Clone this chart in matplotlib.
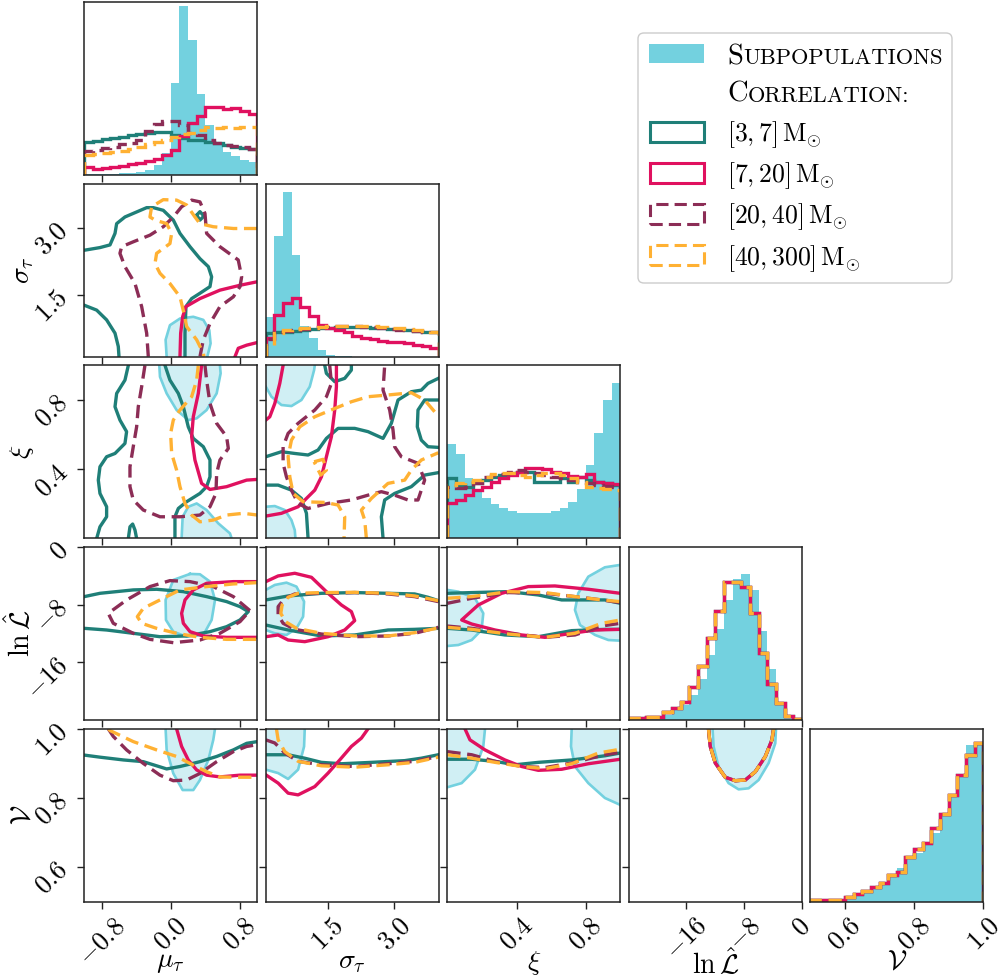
import matplotlib
matplotlib.use("Agg")
import matplotlib.pyplot as plt
from matplotlib.patches import Rectangle, FancyBboxPatch

plt.rcParams["mathtext.fontset"] = "cm"
plt.rcParams["font.family"] = "cmr10"

W, H = 998, 980

# parameters
labels = [r"$\mu_\tau$", r"$\sigma_\tau$", r"$\xi$", r"$\ln\hat{\mathcal{L}}$", r"$\mathcal{V}$"]
ranges = [(-1.0, 1.0), (0.1, 4.0), (0.0, 1.0), (-24.0, 0.0), (0.5, 1.0)]
ticks = [[-0.8, 0.0, 0.8], [1.5, 3.0], [0.4, 0.8], [-16, -8, 0], [0.6, 0.8, 1.0]]
tick_text = [["$-0.8$", "$0.0$", "$0.8$"], ["$1.5$", "$3.0$"], ["$0.4$", "$0.8$"],
             ["$-16$", "$-8$", "$0$"], ["$0.6$", "$0.8$", "$1.0$"]]
series = ["[3, 7]", "[7, 20]", "[20, 40]", "[40, 300]"]

CYAN = "#73D1DF"
TEAL = "#1F7F78"
CRIMSON = "#E0115F"
MAROON = "#8C2D56"
ORANGE = "#FFB133"
styles = [(TEAL, "-"), (CRIMSON, "-"), (MAROON, (0, (4, 2))), (ORANGE, (0, (4, 2)))]

# 1D histograms (20 bins, heights in % of panel)
mu_cyan = [0.4, 0.4, 0.5, 0.8, 1.0, 1.4, 2.0, 3.0, 6.0, 13.0, 53.0, 97.5, 78.0, 47.0, 29.0, 18.0, 13.5, 11.0, 8.5, 7.5]
mu_teal = [18.9, 19.7, 20.6, 21.2, 22.2, 23.1, 23.5, 24.1, 25.0, 25.0, 23.1, 21.2, 20.2, 20.2, 19.3, 18.3, 17.3, 16.4, 15.4, 14.8]
mu_crimson = [4.4, 3.6, 4.0, 4.6, 5.4, 6.2, 7.0, 8.0, 9.5, 11.5, 14.5, 22.5, 30.0, 34.0, 39.5, 39.5, 38.0, 39.0, 37.0, 35.5]
mu_maroon = [14.1, 14.5, 15.4, 16.4, 17.7, 18.7, 20.2, 25.5, 29.5, 31.0, 31.0, 29.0, 24.0, 23.0, 20.0, 18.5, 17.5, 16.5, 16.0, 15.0]
mu_orange = [11.6, 12.1, 12.5, 13.5, 14.1, 14.8, 16.4, 18.0, 19.3, 20.2, 21.8, 23.7, 24.0, 26.0, 27.5, 27.3, 27.5, 27.2, 27.5, 28.0]

sig_cyan = [23.0, 70.0, 95.4, 58.8, 18.0, 11.0, 3.9, 1.0, 0.3, 0.2, 0.1, 0.1, 0, 0, 0, 0, 0, 0, 0, 0]
sig_teal = [13.5, 14.0, 14.5, 15.0, 15.5, 16.0, 16.5, 16.8, 17.0, 17.0, 17.2, 17.0, 16.8, 16.5, 16.3, 16.0, 15.5, 15.0, 14.5, 14.0]
sig_crimson = [10.6, 24.0, 31.0, 34.0, 29.0, 23.5, 18.3, 16.4, 15.4, 14.5, 12.0, 10.6, 10.0, 9.2, 8.7, 8.7, 7.7, 6.7, 6.2, 4.8]
sig_maroon = [10.0, 14.5, 15.0, 15.5, 16.0, 16.5, 17.0, 17.3, 17.5, 17.5, 17.5, 17.3, 17.0, 16.5, 16.0, 15.5, 15.5, 15.0, 14.5, 14.0]
sig_orange = [7.0, 13.5, 15.5, 16.0, 16.5, 16.5, 17.0, 17.5, 17.5, 18.0, 18.0, 17.8, 17.5, 17.0, 16.5, 16.5, 16.0, 15.5, 15.0, 14.0]

xi_cyan = [54.5, 48.6, 34.7, 27.9, 23.1, 19.7, 17.3, 16.0, 14.8, 14.8, 14.8, 14.8, 15.8, 17.3, 21.2, 28.3, 42.4, 60.7, 80.0, 90.0]
xi_teal = [34.7, 30.8, 29.9, 31.8, 33.7, 35.3, 36.6, 37.6, 38.5, 38.5, 32.8, 32.8, 32.8, 34.7, 32.8, 35.6, 33.7, 32.8, 31.8, 30.8]
xi_crimson = [20.2, 22.2, 25.0, 27.9, 29.9, 32.8, 34.7, 36.6, 38.5, 40.5, 40.8, 40.1, 38.5, 37.6, 36.0, 35.3, 37.2, 32.8, 31.8, 31.4]
xi_maroon = [29.9, 28.9, 29.9, 31.8, 35.6, 36.6, 37.2, 38.5, 39.5, 38.5, 37.6, 36.6, 35.6, 34.7, 33.7, 32.8, 31.8, 30.8, 30.3, 29.9]
xi_orange = [30.8, 31.8, 32.8, 33.7, 35.6, 37.0, 37.6, 38.0, 36.6, 35.6, 36.6, 37.6, 37.6, 36.6, 34.7, 32.8, 29.9, 28.9, 28.3, 27.9]

lnl_cyan = [0.6, 0.6, 0.8, 1.0, 2.9, 5.8, 8.7, 14.5, 24.0, 37.6, 52.4, 69.4, 81.3, 84.2, 75.0, 51.6, 29.3, 10.6, 2.9, 0.6]
lnl_lines = [1.0, 1.3, 1.9, 1.9, 4.8, 7.1, 10.6, 18.9, 31.4, 47.2, 63.2, 80.0, 80.0, 76.7, 62.0, 38.9, 20.8, 9.6, 2.5, 0.6]

v_cyan = [0.4, 0.4, 0.6, 0.8, 1.9, 3.9, 5.8, 8.7, 11.6, 14.5, 19.3, 25.0, 28.0, 33.0, 40.0, 50.0, 62.0, 72.0, 90.6, 92.0]
v_lines = [1.3, 1.3, 1.3, 1.3, 2.9, 4.4, 6.4, 8.3, 11.0, 15.4, 17.3, 26.0, 30.8, 33.7, 42.4, 51.0, 61.7, 73.2, 84.8, 92.0]

hists = [
    (mu_cyan, [mu_teal, mu_crimson, mu_maroon, mu_orange]),
    (sig_cyan, [sig_teal, sig_crimson, sig_maroon, sig_orange]),
    (xi_cyan, [xi_teal, xi_crimson, xi_maroon, xi_orange]),
    (lnl_cyan, [lnl_lines] * 4),
    (v_cyan, [v_lines] * 4),
]

# 2D contour paths (data units), one list of pieces per series
ms_cyan = [([-0.048, -0.060, -0.010, 0.106, 0.260, 0.376, 0.445, 0.460, 0.422],
            [0.10, 0.48, 0.81, 0.96, 1.00, 0.93, 0.70, 0.40, 0.10])]
ms_teal = [([-1.0, -0.819, -0.703, -0.645, -0.626, -0.530, -0.279, -0.202, -0.087, 0.029, 0.106, 0.222, 0.337,
             0.434, 0.472, 0.453, 0.337, 0.241, 0.175, 0.164, 0.164],
            [2.50, 2.56, 2.62, 2.88, 3.10, 3.25, 3.46, 3.46, 3.40, 3.18, 2.88, 2.58, 2.31, 2.13, 1.90, 1.68, 1.53,
             1.41, 1.23, 0.63, 0.10]),
           ([-1.0, -0.857, -0.742, -0.645, -0.607, -0.599], [1.26, 1.15, 0.93, 0.63, 0.33, 0.10]),
           ([0.299, 0.337, 0.383, 0.337, 0.299], [3.29, 3.37, 3.27, 3.18, 3.29])]
ms_crimson = [([0.106, 0.114, 0.137, 0.175, 0.337, 0.568, 0.80, 1.0], [0.10, 0.63, 1.00, 1.23, 1.41, 1.60, 1.71, 1.79]),
              ([0.742, 0.780, 0.877, 1.0], [0.10, 0.29, 0.36, 0.42])]
ms_maroon = [([-0.260, -0.279, -0.337, -0.414, -0.530, -0.588, -0.568, -0.434, -0.241, -0.087, 0.029, 0.125, 0.241,
               0.337, 0.395, 0.414, 0.568, 0.780, 0.819, 0.80, 0.723, 0.568, 0.453, 0.376, 0.337],
              [0.10, 0.63, 1.23, 1.75, 2.13, 2.43, 2.58, 2.69, 2.84, 3.03, 3.25, 3.48, 3.63, 3.59, 3.33, 2.88, 2.58,
               2.28, 1.90, 1.68, 1.45, 1.23, 0.85, 0.48, 0.10])]
ms_orange = [([1.0, 0.723, 0.491, 0.337, 0.279, 0.183, 0.067, -0.087, -0.222, -0.241, -0.183, -0.048, 0.010, -0.010,
               -0.164, -0.183, -0.125, -0.010, 0.106, 0.152, 0.183, 0.299, 0.376, 0.383],
              [2.99, 2.99, 3.03, 3.10, 3.25, 3.52, 3.63, 3.64, 3.48, 3.25, 3.18, 3.10, 2.88, 2.65, 2.43, 2.20, 1.98,
               1.75, 1.45, 1.08, 0.78, 0.48, 0.18, 0.10])]

mx_cyan = [([-0.133, -0.125, -0.048, 0.067, 0.202, 0.299, 0.414, 0.530, 0.576, 0.568],
            [1.0, 0.934, 0.838, 0.742, 0.684, 0.694, 0.742, 0.838, 0.954, 1.0]),
           ([0.125, 0.137, 0.202, 0.299, 0.414, 0.549, 0.684, 0.703], [0.0, 0.125, 0.183, 0.202, 0.164, 0.087, 0.029, 0.0])]
mx_teal = [([-0.491, -0.530, -0.626, -0.645, -0.588, -0.511, -0.530, -0.645, -0.742, -0.819, -0.838, -0.819, -0.742,
             -0.742, -0.819, -0.857],
            [1.0, 0.915, 0.838, 0.761, 0.684, 0.617, 0.549, 0.491, 0.472, 0.414, 0.337, 0.260, 0.183, 0.125, 0.067, 0.0]),
           ([-0.491, -0.472, -0.441, -0.414, -0.395], [0.0, 0.067, 0.083, 0.048, 0.0]),
           ([-0.067, -0.010, 0.087, 0.145, 0.202, 0.260, 0.376, 0.453, 0.453, 0.414, 0.337, 0.183, 0.087, 0.048, 0.048],
            [1.0, 0.915, 0.838, 0.761, 0.645, 0.578, 0.530, 0.453, 0.356, 0.299, 0.260, 0.212, 0.173, 0.125, 0.0])]
mx_crimson = [([0.356, 0.318, 0.260, 0.241, 0.279, 0.356, 0.453, 0.645, 0.877, 1.0],
               [1.0, 0.838, 0.703, 0.588, 0.453, 0.318, 0.283, 0.299, 0.337, 0.341])]
mx_maroon = [([-0.299, -0.337, -0.376, -0.395, -0.434, -0.472, -0.472, -0.434, -0.318, -0.125, 0.106, 0.337, 0.453,
               0.522, 0.530, 0.568, 0.665, 0.645, 0.530, 0.453, 0.414, 0.395],
              [1.0, 0.877, 0.761, 0.645, 0.530, 0.414, 0.299, 0.222, 0.164, 0.125, 0.125, 0.135, 0.183, 0.260, 0.376,
               0.453, 0.520, 0.588, 0.665, 0.780, 0.915, 1.0])]
mx_orange = [([0.318, 0.299, 0.241, 0.106, 0.029, -0.002, 0.010, 0.067, 0.106, 0.164, 0.241, 0.337, 0.491, 0.645,
               0.838, 1.0],
              [1.0, 0.915, 0.819, 0.742, 0.684, 0.607, 0.491, 0.395, 0.299, 0.202, 0.135, 0.096, 0.106, 0.135, 0.145,
               0.135])]

sx_cyan = [([0.1, 0.228, 0.453, 0.678, 0.903, 1.091, 1.189, 1.204], [0.877, 0.819, 0.771, 0.765, 0.800, 0.877, 0.973, 1.0]),
           ([0.1, 0.303, 0.528, 0.678, 0.753, 0.768], [0.183, 0.187, 0.164, 0.106, 0.048, 0.0])]
sx_teal = [([1.429, 1.466, 1.654, 1.879, 2.029, 2.029], [1.0, 0.954, 0.906, 0.925, 0.973, 1.0]),
           ([0.1, 0.453, 0.753, 1.053, 1.279, 1.466, 1.729, 2.104, 2.405, 2.743, 2.930, 3.081, 3.381, 3.606, 3.756, 3.989],
            [0.472, 0.501, 0.491, 0.482, 0.511, 0.578, 0.636, 0.636, 0.617, 0.578, 0.665, 0.800, 0.848, 0.857, 0.896, 0.925]),
           ([3.989, 3.681, 3.531, 3.516, 3.606, 3.756, 3.989], [0.800, 0.800, 0.742, 0.645, 0.568, 0.530, 0.526]),
           ([0.1, 0.378, 0.678, 0.903, 1.016, 1.053], [0.308, 0.308, 0.279, 0.231, 0.145, 0.0]),
           ([2.743, 2.705, 2.780, 3.005, 3.381, 3.681, 3.989], [0.0, 0.125, 0.222, 0.260, 0.299, 0.366, 0.380])]
sx_crimson = [([0.1, 0.19, 0.303, 0.415, 0.49], [0.684, 0.703, 0.780, 0.896, 1.0]),
              ([1.692, 1.692, 1.654, 1.579, 1.466, 1.354, 1.204, 0.828, 0.453, 0.1],
               [1.0, 0.877, 0.742, 0.588, 0.472, 0.356, 0.279, 0.183, 0.145, 0.129])]
sx_maroon = [([1.541, 1.579, 1.466, 1.204, 0.828, 0.603, 0.49, 0.49, 0.565, 0.678, 0.828, 1.053, 1.504, 2.029, 2.405,
               2.705, 3.005, 3.306, 3.531, 3.681, 3.531, 3.156, 3.005, 2.968, 2.893, 2.743, 2.780],
              [1.0, 0.896, 0.819, 0.742, 0.665, 0.607, 0.530, 0.434, 0.356, 0.279, 0.202, 0.173, 0.202, 0.222, 0.250,
               0.270, 0.250, 0.222, 0.222, 0.337, 0.434, 0.472, 0.530, 0.626, 0.742, 0.857, 1.0])]
sx_orange = [([3.906, 3.681, 3.381, 2.855, 2.405, 2.029, 1.654, 1.204, 0.866, 0.678, 0.603, 0.641, 0.716, 0.941, 1.429,
               1.729, 1.879, 1.864],
              [0.732, 0.800, 0.842, 0.829, 0.819, 0.790, 0.751, 0.703, 0.645, 0.568, 0.472, 0.356, 0.260, 0.212, 0.208,
               0.193, 0.125, 0.0]),
             ([2.367, 2.330, 2.255, 2.480, 2.855, 3.231, 3.381, 3.606, 3.989],
              [0.0, 0.106, 0.164, 0.231, 0.318, 0.337, 0.395, 0.453, 0.495]),
             ([1.189, 1.391, 1.466, 1.339, 1.189], [0.443, 0.457, 0.395, 0.366, 0.443])]

ml_cyan = [([0.222, 0.029, -0.060, -0.056, 0.029, 0.183, 0.376, 0.472, 0.511, 0.453, 0.337, 0.222],
            [-3.72, -4.56, -7.33, -10.11, -11.73, -12.43, -12.19, -10.11, -7.33, -4.79, -3.77, -3.72])]
ml_teal = [([-1.0, -0.819, -0.434, -0.164, 0.145, 0.414, 0.645, 0.80, 0.896, 0.80, 0.645, 0.453, 0.183, -0.125,
             -0.434, -0.742, -1.0],
            [-6.87, -6.41, -5.94, -5.85, -6.18, -6.87, -7.56, -8.26, -8.95, -10.11, -11.04, -11.73, -12.33, -12.43,
             -11.96, -11.5, -11.27])]
ml_crimson = [([1.0, 0.723, 0.414, 0.260, 0.164, 0.125, 0.145, 0.222, 0.376, 0.645, 1.0],
               [-4.79, -4.79, -5.02, -5.94, -7.33, -9.19, -10.57, -11.73, -12.33, -12.52, -12.52])]
ml_maroon = [([0.915, 0.723, 0.491, 0.222, -0.010, -0.241, -0.511, -0.723, -0.665, -0.434, -0.241, 0.029, 0.337,
               0.568, 0.80, 0.915],
              [-8.81, -6.87, -5.48, -4.79, -4.65, -5.48, -7.33, -9.19, -10.57, -11.96, -12.80, -13.26, -12.89,
               -11.96, -10.34, -8.81])]
ml_orange = [([1.0, 0.723, 0.414, 0.106, -0.125, -0.318, -0.387, -0.337, -0.164, 0.067, 0.337, 0.645, 1.0],
              [-4.93, -5.11, -5.48, -5.94, -7.33, -8.49, -9.65, -10.57, -11.27, -11.96, -12.52, -12.80, -12.80])]

sl_cyan = [([0.1, 0.303, 0.566, 0.791, 0.963, 0.941, 0.791, 0.566, 0.303, 0.1],
            [-5.94, -5.25, -4.93, -5.48, -7.56, -9.65, -11.27, -12.19, -11.96, -11.5])]
sl_teal = [([0.1, 0.603, 1.354, 2.104, 2.855, 3.456, 3.756, 3.989], [-7.33, -6.78, -6.41, -6.31, -6.41, -6.50, -6.96, -7.43]),
           ([0.1, 0.603, 1.354, 2.104, 2.855, 3.456, 3.989], [-10.81, -11.5, -12.33, -12.19, -11.5, -11.41, -11.27])]
sl_crimson = [([0.1, 0.378, 0.753, 1.129, 1.504, 1.804, 2.029, 2.104, 1.879, 1.504, 0.978, 0.603, 0.378, 0.1],
               [-4.79, -4.0, -3.63, -4.19, -6.41, -8.03, -8.95, -10.20, -11.5, -12.43, -13.12, -12.89, -12.19, -12.43])]
sl_maroon = [([3.989, 3.456, 2.855, 2.104, 1.354, 0.753, 0.528, 0.378, 0.378, 0.49, 0.753, 1.354, 2.104, 2.855, 3.456, 3.989],
              [-7.56, -6.87, -6.50, -6.31, -6.41, -6.50, -7.10, -8.26, -9.42, -10.57, -11.41, -12.06, -12.43, -12.33,
               -11.96, -11.13])]
sl_orange = [([3.989, 3.456, 2.855, 2.104, 1.354, 0.828, 0.603, 0.468, 0.438, 0.543, 0.791, 1.354, 2.104, 2.855, 3.456, 3.989],
              [-7.43, -6.78, -6.41, -6.27, -6.31, -6.41, -6.96, -8.03, -9.19, -10.34, -11.27, -11.96, -12.33, -12.33,
               -11.87, -11.22])]

xl_cyan = [([0.0, 0.064, 0.160, 0.208, 0.198, 0.141, 0.064, 0.0], [-5.94, -6.18, -7.10, -9.19, -11.5, -12.89, -13.58, -13.72]),
           ([1.0, 0.911, 0.815, 0.757, 0.738, 0.767, 0.854, 0.931, 1.0],
            [-2.47, -2.80, -4.10, -6.41, -8.72, -10.81, -12.19, -12.89, -12.98])]
xl_teal = [([0.0, 0.141, 0.353, 0.526, 0.661, 0.815, 0.911, 1.0], [-6.41, -6.31, -6.18, -6.64, -7.33, -7.33, -7.33, -7.80]),
           ([0.0, 0.141, 0.333, 0.526, 0.719, 0.911, 1.0], [-11.27, -11.5, -12.19, -12.43, -11.59, -11.41, -11.41])]
xl_crimson = [([1.0, 0.815, 0.622, 0.468, 0.314, 0.179, 0.083, 0.141, 0.276, 0.430, 0.565, 0.719, 0.854, 1.0],
               [-6.41, -5.85, -5.39, -5.48, -6.41, -8.03, -10.11, -10.67, -11.5, -12.19, -12.52, -11.96, -11.5, -11.41])]
xl_maroon = [([0.0, 0.141, 0.353, 0.565, 0.738, 0.892, 1.0], [-7.80, -7.10, -6.31, -6.41, -6.87, -7.33, -7.70]),
             ([0.0, 0.141, 0.353, 0.565, 0.738, 0.892, 1.0], [-10.95, -11.27, -11.96, -12.52, -12.19, -10.95, -10.57])]
xl_orange = [([0.0, 0.141, 0.353, 0.565, 0.738, 0.892, 1.0], [-7.10, -6.87, -6.18, -6.31, -6.87, -7.33, -7.56]),
             ([0.0, 0.141, 0.353, 0.565, 0.738, 0.892, 1.0], [-11.13, -11.41, -12.06, -12.52, -11.96, -10.57, -10.11])]

mv_cyan = [([-0.060, -0.048, 0.029, 0.137, 0.260, 0.337, 0.434, 0.491, 0.511], [1.0, 0.939, 0.871, 0.823, 0.823, 0.852, 0.910, 0.968, 1.0])]
mv_teal = [([-1.0, -0.819, -0.549, -0.318, -0.048, 0.106, 0.337, 0.530, 0.723, 0.877, 1.0],
            [0.924, 0.918, 0.910, 0.905, 0.884, 0.891, 0.905, 0.920, 0.939, 0.958, 0.963])]
mv_crimson = [([0.067, 0.125, 0.202, 0.299, 0.414, 0.568, 0.80, 1.0], [1.0, 0.949, 0.910, 0.881, 0.866, 0.861, 0.866, 0.866])]
mv_maroon = [([-0.723, -0.665, -0.511, -0.318, -0.125, 0.029, 0.183, 0.337, 0.530, 0.723, 0.877, 1.0],
              [1.0, 0.978, 0.939, 0.900, 0.866, 0.850, 0.852, 0.871, 0.905, 0.934, 0.949, 0.954])]
mv_orange = [([-0.72, -0.703, -0.434, -0.164, 0.067, 0.260, 0.414, 0.568, 0.723, 1.0],
              [1.0, 0.995, 0.963, 0.939, 0.920, 0.895, 0.876, 0.861, 0.860, 0.860])]

sv_cyan = [([0.978, 0.963, 0.828, 0.603, 0.378, 0.1], [1.0, 0.949, 0.882, 0.855, 0.872, 0.882])]
sv_teal = [([0.1, 0.603, 0.978, 1.354, 1.804, 2.480, 3.231, 3.606, 3.989], [0.925, 0.925, 0.915, 0.903, 0.899, 0.903, 0.908, 0.915, 0.925])]
sv_crimson = [([2.405, 2.255, 2.029, 1.767, 1.504, 1.204, 0.828, 0.603, 0.378, 0.1],
               [1.0, 0.973, 0.949, 0.910, 0.872, 0.833, 0.809, 0.814, 0.843, 0.867])]
sv_maroon = [([0.1, 0.303, 0.528, 0.828, 1.354, 2.104, 2.855, 3.456, 3.989], [0.968, 0.959, 0.930, 0.906, 0.896, 0.891, 0.899, 0.906, 0.920])]
sv_orange = [([0.34, 0.378, 0.528, 0.828, 1.354, 2.104, 2.855, 3.456, 3.989], [1.0, 0.968, 0.934, 0.906, 0.893, 0.889, 0.896, 0.903, 0.918])]

xv_cyan = [([0.218, 0.208, 0.160, 0.083, 0.0], [1.0, 0.949, 0.882, 0.843, 0.831]),
           ([0.719, 0.715, 0.738, 0.815, 0.911, 1.0], [1.0, 0.949, 0.891, 0.843, 0.800, 0.780])]
xv_teal = [([0.0, 0.141, 0.276, 0.391, 0.526, 0.719, 0.911, 1.0], [0.912, 0.912, 0.906, 0.896, 0.903, 0.910, 0.922, 0.930])]
xv_crimson = [([0.102, 0.131, 0.218, 0.333, 0.430, 0.526, 0.661, 0.815, 1.0], [1.0, 0.968, 0.939, 0.910, 0.891, 0.880, 0.883, 0.899, 0.912])]
xv_maroon = [([0.0, 0.141, 0.276, 0.430, 0.565, 0.719, 0.911, 1.0], [0.934, 0.925, 0.906, 0.891, 0.888, 0.901, 0.925, 0.932])]
xv_orange = [([0.0, 0.141, 0.276, 0.430, 0.565, 0.719, 0.873, 1.0], [0.925, 0.915, 0.903, 0.891, 0.885, 0.899, 0.930, 0.941])]

lv_cyan = [([-12.38, -12.24, -11.55, -10.16, -8.77, -7.38, -5.99, -4.60, -3.68, -3.58],
            [1.0, 0.949, 0.891, 0.843, 0.825, 0.828, 0.852, 0.901, 0.958, 1.0])]
lv_lines = [([-12.94, -12.70, -12.0, -10.62, -9.23, -7.84, -6.45, -5.06, -4.14, -3.91],
             [1.0, 0.949, 0.901, 0.860, 0.850, 0.852, 0.876, 0.920, 0.968, 1.0])]

contours = {
    (1, 0): (ms_cyan, [ms_teal, ms_crimson, ms_maroon, ms_orange]),
    (2, 0): (mx_cyan, [mx_teal, mx_crimson, mx_maroon, mx_orange]),
    (2, 1): (sx_cyan, [sx_teal, sx_crimson, sx_maroon, sx_orange]),
    (3, 0): (ml_cyan, [ml_teal, ml_crimson, ml_maroon, ml_orange]),
    (3, 1): (sl_cyan, [sl_teal, sl_crimson, sl_maroon, sl_orange]),
    (3, 2): (xl_cyan, [xl_teal, xl_crimson, xl_maroon, xl_orange]),
    (4, 0): (mv_cyan, [mv_teal, mv_crimson, mv_maroon, mv_orange]),
    (4, 1): (sv_cyan, [sv_teal, sv_crimson, sv_maroon, sv_orange]),
    (4, 2): (xv_cyan, [xv_teal, xv_crimson, xv_maroon, xv_orange]),
    (4, 3): (lv_cyan, [lv_lines] * 4),
}
# corner of the panel used to close clipped cyan regions
cyan_corners = {(2, 1): ["tl", "bl"], (4, 1): ["tl"], (4, 2): ["tl", "tr"]}

fig = plt.figure(figsize=(W / 100, H / 100), dpi=100)


def panel_rect(i, j):
    left = 84.3 + j * 181.5
    top = 2.0 + i * 181.7
    return [left / W, 1 - (top + 173) / H, 173 / W, 173 / H]


LW = 2.4
n = len(labels)
for i in range(n):
    for j in range(i + 1):
        ax = fig.add_axes(panel_rect(i, j))
        ax.set_xlim(ranges[j])
        if i == j:
            lo, hi = ranges[i]
            edges = [lo + (hi - lo) * k / 20 for k in range(21)]
            cyan, lines = hists[i]
            ax.stairs(cyan, edges, fill=True, color=CYAN, lw=0)
            for vals, (col, ls) in zip(lines, styles):
                ax.stairs(vals, edges, color=col, ls=ls, lw=LW, baseline=0)
            ax.set_ylim(0, 100)
            ax.set_yticks([])
        else:
            ax.set_ylim(ranges[i])
            cyan, lines = contours[(i, j)]
            corners = cyan_corners.get((i, j), [None] * len(cyan))
            x0, x1 = ranges[j]
            y0, y1 = ranges[i]
            cmap = {"tl": (x0, y1), "tr": (x1, y1), "bl": (x0, y0), "br": (x1, y0)}
            for (xs, ys), cn in zip(cyan, corners):
                fx, fy = list(xs), list(ys)
                if cn:
                    fx.append(cmap[cn][0])
                    fy.append(cmap[cn][1])
                ax.fill(fx, fy, color=CYAN, alpha=0.33, lw=0, zorder=1)
                ax.plot(xs, ys, color=CYAN, lw=1.9, zorder=1.5)
            for pieces, (col, ls) in zip(lines, styles):
                for xs, ys in pieces:
                    ax.plot(xs, ys, color=col, ls=ls, lw=LW, solid_joinstyle="round", zorder=2)
            ax.set_yticks(ticks[i])
            if j == 0:
                ax.set_yticklabels(tick_text[i], rotation=45, fontsize=19)
                ax.set_ylabel(labels[i], fontsize=20)
                ax.yaxis.set_label_coords(-0.28, 0.5)
            else:
                ax.set_yticklabels([])
        ax.set_xticks(ticks[j])
        if i == n - 1:
            ax.set_xticklabels(tick_text[j], rotation=45, fontsize=19)
            ax.set_xlabel(labels[j], fontsize=20)
            ax.xaxis.set_label_coords(0.5, -0.27)
        else:
            ax.set_xticklabels([])
        ax.tick_params(direction="out", length=5, width=1.0, color="#222222")
        for s in ax.spines.values():
            s.set_linewidth(1.1)
            s.set_color("#222222")


# legend drawn by hand (small caps headings)
def fxy(px, py):
    return px / W, 1 - py / H


fig.add_artist(FancyBboxPatch(fxy(638, 283), (952 - 638) / W, (283 - 33) / H,
                              boxstyle="round,pad=0,rounding_size=0.006", transform=fig.transFigure,
                              fc="white", ec="#cccccc", lw=1.0, zorder=5))
rows_c = [53.5, 93.5, 132, 173, 214, 255.5]
rows_b = [64.3, 101.7, 140.7, 182.3, 223.3, 265.0]
fig.add_artist(Rectangle(fxy(649, rows_c[0] + 9.5), 55 / W, 19 / H, fc=CYAN, ec="none",
                         transform=fig.transFigure, zorder=6))
for k, (col, ls) in enumerate(styles):
    yc = rows_c[k + 2]
    fig.add_artist(Rectangle(fxy(650, yc + 10), 54 / W, 20 / H, fill=False, ec=col, ls=ls, lw=2.2,
                             transform=fig.transFigure, zorder=6))
    fig.text(727 / W, 1 - rows_b[k + 2] / H, r"$%s\,\mathrm{M}_{\odot}$" % series[k].replace(" ", ""),
             fontsize=18.5, va="baseline", ha="left", zorder=7)

renderer = fig.canvas.get_renderer()
for word, yb in [("Subpopulations", rows_b[0]), ("Correlation:", rows_b[1])]:
    t1 = fig.text(727 / W, 1 - yb / H, word[0], fontsize=20.5, va="baseline", ha="left", zorder=7)
    ext = t1.get_window_extent(renderer)
    fig.text(ext.x1 / W + 0.0005, 1 - yb / H, word[1:].upper(), fontsize=16.2, va="baseline", ha="left", zorder=7)

fig.savefig("out.png", dpi=100)
